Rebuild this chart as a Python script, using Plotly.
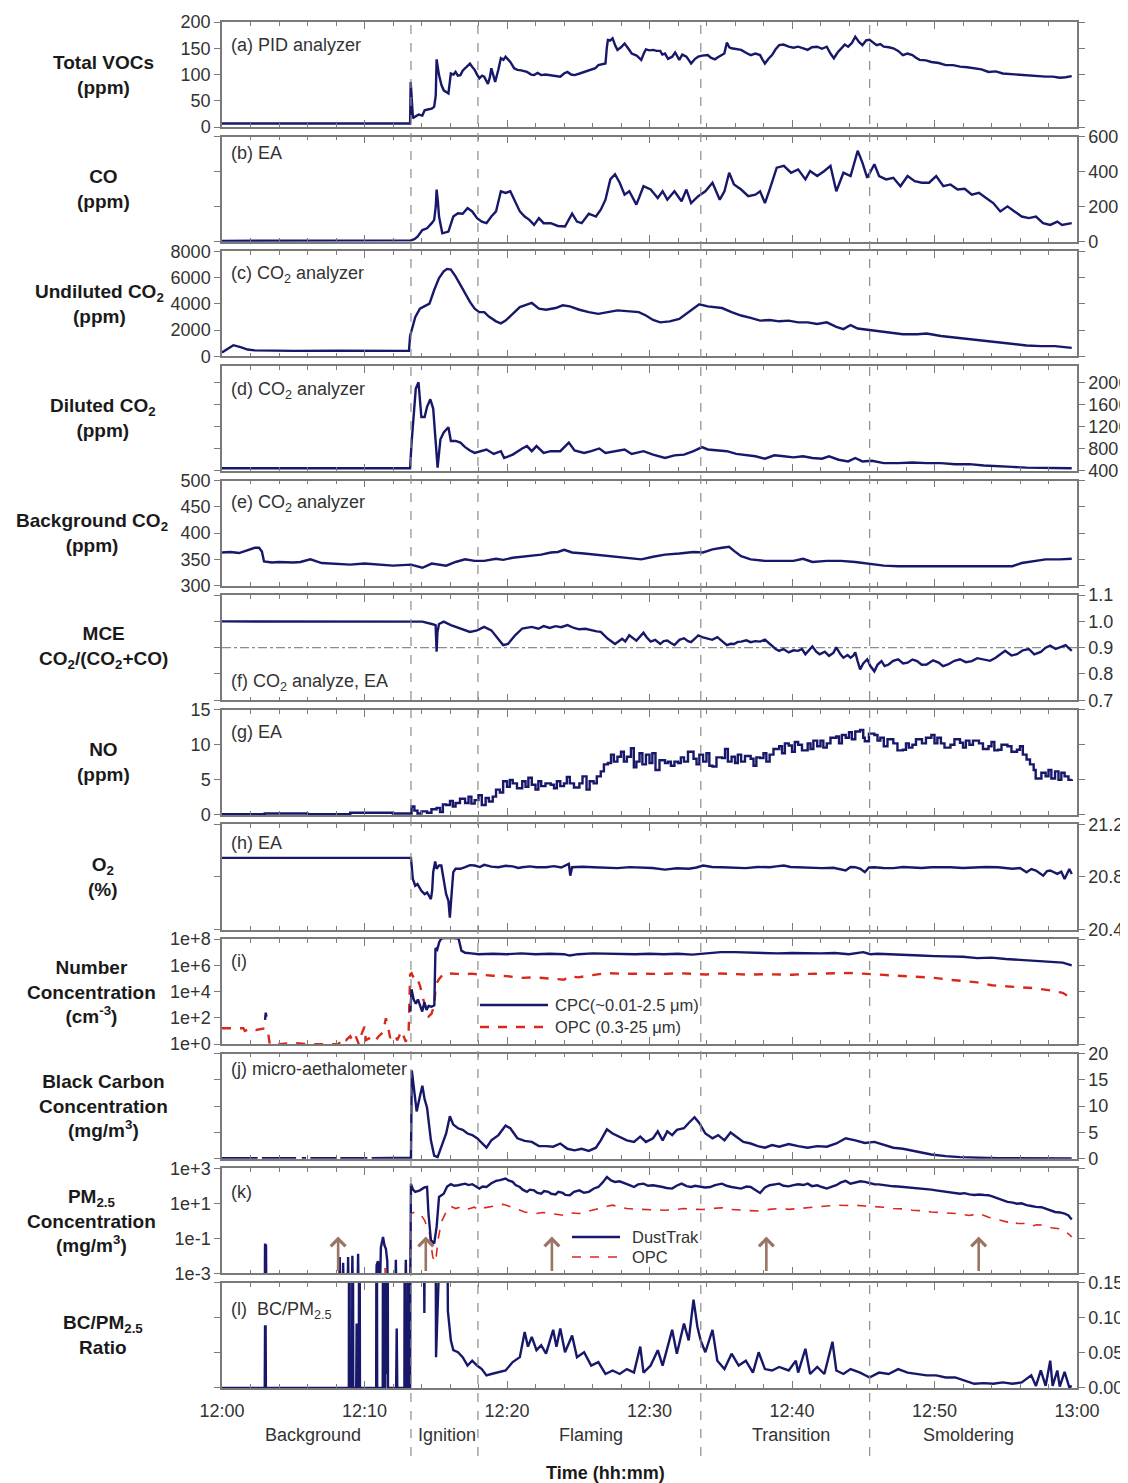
import plotly.graph_objects as go

# ---------------- data (time in minutes after 12:00) ----------------
X_TICKVALS = [0, 10, 20, 30, 40, 50, 60]
X_TICKTEXT = ["12:00", "12:10", "12:20", "12:30", "12:40", "12:50", "13:00"]
PHASE_BOUNDS = [13.26, 17.96, 33.6, 45.45]
PHASE_NAMES = ["Background", "Ignition", "Flaming", "Transition", "Smoldering"]
PHASE_CENTERS = [6.4, 15.8, 25.9, 39.9, 52.4]
ARROW_TIMES = [8.15, 14.3, 23.15, 38.2, 53.1]

VOC = [(0,7),(4,7),(8,7),(12,7),(13.2,7),(13.24,86),(13.3,60),(13.4,17),(13.56,20),(13.8,24),(14.06,22),(14.22,32),(14.5,34),(14.72,35),(14.89,39),(15.0,60),(15.06,129),(15.15,110),(15.23,99),(15.4,80),(15.56,70),(15.89,64),(16.06,102),(16.25,100),(16.39,105),(16.55,98),(16.73,99),(16.9,108),(17.06,112),(17.25,116),(17.40,121),(17.55,115),(17.73,109),(17.9,100),(18.06,93),(18.25,98),(18.40,96),(18.66,82),(18.8,95),(18.90,112),(19.05,100),(19.17,86),(19.4,110),(19.57,131),(19.75,128),(19.90,134),(20.1,128),(20.23,124),(20.5,112),(20.73,109),(21.0,108),(21.40,105),(21.7,100),(21.90,99),(22.15,103),(22.40,99),(22.7,100),(23.07,99),(23.4,98),(23.74,96),(24.0,102),(24.24,105),(24.5,100),(24.74,99),(25.1,102),(25.41,105),(25.7,108),(25.91,109),(26.2,112),(26.41,118),(26.7,119),(26.91,121),(27.0,150),(27.08,166),(27.25,165),(27.41,169),(27.6,155),(27.75,147),(28.0,152),(28.25,159),(28.5,150),(28.75,140),(29.1,136),(29.42,128),(29.6,140),(29.75,148),(30.0,146),(30.25,147),(30.5,145),(30.75,145),(30.9,138),(31.09,140),(31.3,130),(31.59,134),(31.8,142),(32.09,128),(32.3,138),(32.59,134),(32.75,128),(32.92,121),(33.2,130),(33.42,134),(33.7,136),(34.09,137),(34.3,132),(34.59,129),(34.8,133),(35.09,137),(35.25,140),(35.43,161),(35.6,152),(35.76,150),(36.1,148),(36.43,147),(36.8,141),(37.10,137),(37.43,140),(37.76,137),(37.9,130),(38.10,121),(38.35,130),(38.60,137),(38.85,148),(39.10,156),(39.4,157),(39.77,153),(40.1,151),(40.43,153),(40.8,150),(41.10,147),(41.4,152),(41.77,153),(42.1,149),(42.44,153),(42.7,140),(42.94,131),(43.2,142),(43.44,150),(43.7,157),(43.94,153),(44.2,160),(44.44,172),(44.7,162),(44.94,156),(45.2,165),(45.44,166),(45.7,160),(45.94,156),(46.2,158),(46.44,153),(46.8,152),(47.11,150),(47.45,145),(47.78,137),(48.1,140),(48.45,137),(48.7,132),(48.95,128),(49.4,127),(49.78,124),(50.3,122),(50.79,118),(51.3,118),(51.79,115),(52.3,114),(52.79,112),(53.3,110),(53.79,105),(54.3,106),(54.79,102),(55.3,101),(55.79,99),(56.3,99),(56.80,97),(57.3,97),(57.80,96),(58.3,96),(58.80,94),(59.2,95),(59.63,97)]

CO = [(0,5),(6,5),(13.26,8),(13.5,15),(13.72,29),(14.06,67),(14.39,77),(14.72,106),(14.89,125),(15.0,200),(15.06,298),(15.15,230),(15.23,144),(15.46,48),(15.89,58),(16.23,144),(16.56,163),(16.89,160),(17.23,192),(17.56,173),(17.90,135),(18.23,115),(18.56,106),(18.90,144),(19.23,173),(19.57,288),(19.90,279),(20.23,288),(20.57,231),(20.90,173),(21.24,144),(21.57,125),(21.90,96),(22.24,135),(22.57,106),(23.07,106),(23.57,90),(24.07,87),(24.57,160),(24.91,115),(25.24,106),(25.74,160),(26.24,144),(26.58,183),(26.91,240),(27.25,356),(27.58,385),(27.91,337),(28.25,269),(28.58,288),(29.08,212),(29.58,317),(30.08,298),(30.58,250),(30.92,288),(31.25,240),(31.75,288),(32.25,231),(32.59,298),(32.92,221),(33.42,260),(33.92,288),(34.42,337),(34.93,240),(35.26,288),(35.59,394),(35.93,327),(36.43,298),(36.93,260),(37.43,269),(37.76,288),(38.10,221),(38.43,298),(38.93,423),(39.43,433),(39.93,394),(40.43,413),(40.94,356),(41.27,404),(41.77,375),(42.27,404),(42.70,433),(43.11,288),(43.61,394),(44.11,375),(44.61,519),(44.94,452),(45.28,365),(45.78,442),(46.11,375),(46.61,356),(47.11,365),(47.61,317),(48.11,375),(48.61,346),(49.12,337),(49.62,337),(50.12,375),(50.62,317),(51.12,327),(51.62,298),(52.12,302),(52.62,269),(53.12,279),(53.62,250),(54.12,221),(54.62,173),(55.12,202),(55.62,173),(56.12,144),(56.62,135),(57.12,144),(57.62,106),(58.12,96),(58.62,115),(58.95,96),(59.63,106)]

CO2_UNDILUTED = [(0,300),(0.4,600),(0.8,850),(1.3,700),(1.8,520),(2.3,460),(3,440),(5,420),(8,430),(11,430),(13.12,420),(13.2,1554),(13.56,2978),(13.89,3626),(14.22,3807),(14.56,4014),(14.89,5050),(15.23,5957),(15.56,6475),(15.79,6656),(16.06,6605),(16.39,6086),(16.73,5439),(17.06,4791),(17.40,4144),(17.73,3626),(18.06,3367),(18.40,3367),(18.73,3030),(19.23,2668),(19.57,2512),(19.90,2720),(20.40,3237),(20.90,3755),(21.24,3885),(21.74,4066),(22.24,3626),(22.74,3548),(23.41,3678),(23.91,3885),(24.41,3807),(25.08,3548),(25.74,3367),(26.41,3237),(27.08,3367),(27.75,3497),(28.41,3445),(29.25,3367),(29.75,3108),(30.25,2771),(30.75,2590),(31.42,2668),(32.09,2849),(32.59,3237),(33.09,3626),(33.49,3963),(34.09,3807),(34.59,3755),(35.09,3678),(35.76,3367),(36.43,3108),(37.10,2927),(37.76,2720),(38.43,2771),(39.10,2668),(39.77,2720),(40.43,2590),(41.10,2590),(41.77,2461),(42.44,2590),(43.11,2253),(43.61,2072),(44.11,2383),(44.61,2124),(45.44,1994),(46.28,1891),(47.11,1761),(47.78,1684),(48.78,1684),(49.45,1735),(50.45,1554),(51.45,1425),(52.45,1295),(53.46,1166),(54.46,1036),(55.46,907),(56.46,829),(57.46,777),(58.46,777),(59.63,648)]

CO2_DILUTED = [(0,450),(13.2,450),(13.3,900),(13.46,1504),(13.6,1900),(13.79,2012),(13.9,1700),(13.99,1380),(14.22,1380),(14.39,1566),(14.62,1702),(14.82,1535),(14.99,946),(15.13,462),(15.33,977),(15.56,1101),(15.89,1194),(16.06,946),(16.39,946),(16.73,915),(17.06,834),(17.40,772),(17.73,729),(18.23,760),(18.56,791),(19.07,710),(19.57,760),(19.80,636),(20.40,698),(21.07,809),(21.40,853),(21.74,760),(22.07,853),(22.57,729),(23.07,760),(23.74,760),(24.34,915),(24.74,772),(25.41,729),(25.91,760),(26.48,809),(26.91,729),(27.58,760),(28.25,791),(28.75,710),(29.58,760),(30.25,698),(31.09,636),(31.75,685),(32.42,698),(33.09,760),(33.69,834),(34.09,791),(34.76,772),(35.43,760),(36.09,710),(36.76,685),(37.43,667),(38.10,623),(38.76,685),(39.43,667),(40.10,648),(40.77,667),(41.43,636),(42.10,623),(42.60,667),(43.27,605),(43.94,574),(44.44,636),(44.94,574),(45.61,586),(46.44,543),(47.45,543),(48.45,555),(49.45,543),(50.45,543),(51.45,524),(52.45,524),(53.46,499),(54.46,481),(55.46,474),(56.46,462),(57.46,462),(58.46,450),(59.63,450)]

CO2_BACKGROUND = [(0,363),(0.6,364),(1.2,362),(1.8,368),(2.3,372),(2.6,372),(2.8,365),(2.95,346),(3.5,344),(4,345),(5,344),(5.5,345),(6.2,350),(7,343),(8,342),(9,340),(10,342),(11,340),(12,338),(13.26,340),(14.06,334),(14.72,342),(15.73,338),(16.39,345),(17.06,350),(17.73,347),(18.40,347),(19.23,351),(19.73,349),(20.40,353),(21.07,355),(21.74,356),(22.40,359),(23.07,363),(23.57,364),(24.01,368),(24.57,363),(25.41,361),(26.41,358),(27.41,355),(28.41,352),(29.42,350),(30.25,355),(31.09,359),(32.09,361),(33.09,364),(33.76,363),(34.42,369),(35.09,372),(35.59,374),(35.93,366),(36.43,356),(37.10,350),(38.10,347),(39.10,347),(40.10,347),(40.77,351),(41.43,345),(42.44,347),(43.44,347),(44.44,345),(45.44,342),(46.44,338),(47.45,337),(48.45,337),(49.45,336),(50.45,336),(51.45,336),(52.45,336),(53.46,336),(54.46,336),(55.46,337),(56.12,343),(57.12,347),(57.80,350),(58.80,350),(59.63,351)]

MCE = [(0,1.0),(13.26,1.0),(14.06,0.999),(14.72,0.99),(14.99,0.986),(15.06,0.885),(15.12,0.96),(15.23,0.99),(15.56,0.999),(16.06,0.986),(16.73,0.973),(17.40,0.96),(17.90,0.966),(18.40,0.979),(18.90,0.966),(19.40,0.934),(19.73,0.91),(20.07,0.914),(20.57,0.947),(21.07,0.973),(21.74,0.979),(22.2,0.972),(22.57,0.982),(23.0,0.975),(23.41,0.982),(23.8,0.978),(24.24,0.986),(24.7,0.975),(25.08,0.97),(25.5,0.972),(25.91,0.966),(26.3,0.962),(26.58,0.96),(27.08,0.934),(27.58,0.914),(28.08,0.934),(28.3,0.924),(28.58,0.947),(29.08,0.927),(29.58,0.957),(29.8,0.94),(30.08,0.923),(30.4,0.93),(30.75,0.914),(31.0,0.925),(31.25,0.927),(31.5,0.918),(31.75,0.91),(32.1,0.93),(32.42,0.936),(32.7,0.925),(32.92,0.921),(33.2,0.935),(33.42,0.947),(33.7,0.94),(34.09,0.936),(34.4,0.93),(34.76,0.94),(35.1,0.925),(35.43,0.91),(35.7,0.915),(35.93,0.914),(36.2,0.922),(36.43,0.923),(36.8,0.928),(37.10,0.921),(37.43,0.925),(37.76,0.923),(38.10,0.931),(38.35,0.92),(38.60,0.908),(38.85,0.895),(39.10,0.888),(39.4,0.895),(39.77,0.882),(40.1,0.89),(40.43,0.888),(40.7,0.895),(40.94,0.875),(41.2,0.89),(41.43,0.905),(41.7,0.885),(41.94,0.875),(42.3,0.885),(42.60,0.869),(42.9,0.88),(43.11,0.901),(43.4,0.875),(43.61,0.862),(43.9,0.872),(44.11,0.862),(44.3,0.87),(44.44,0.882),(44.6,0.85),(44.78,0.817),(45.0,0.84),(45.28,0.856),(45.5,0.83),(45.78,0.81),(46.0,0.835),(46.28,0.849),(46.5,0.83),(46.78,0.836),(47.1,0.85),(47.45,0.856),(47.8,0.84),(48.11,0.843),(48.45,0.855),(48.78,0.849),(49.1,0.835),(49.45,0.836),(49.9,0.852),(50.29,0.843),(50.6,0.83),(50.95,0.836),(51.4,0.85),(51.79,0.856),(52.2,0.845),(52.62,0.849),(53.0,0.86),(53.46,0.856),(53.9,0.85),(54.29,0.862),(54.6,0.875),(54.96,0.888),(55.4,0.87),(55.79,0.875),(56.2,0.89),(56.62,0.895),(57.0,0.875),(57.46,0.884),(57.8,0.9),(58.12,0.908),(58.5,0.895),(58.79,0.901),(59.2,0.91),(59.63,0.888)]

NO = [(0,0.1),(3,0.2),(6,0.1),(9,0.3),(12,0.2),(13.2,0.2),(13.3,1.2),(13.5,0.6),(13.72,0.2),(14.0,0.5),(14.39,0.3),(14.7,0.8),(15.06,1.0),(15.3,0.4),(15.5,1.5),(15.73,1.4),(16.0,2.0),(16.2,1.2),(16.39,1.7),(16.7,2.3),(17.06,1.7),(17.3,2.6),(17.5,1.6),(17.73,2.1),(18.0,2.8),(18.23,1.4),(18.5,2.4),(18.73,1.9),(19.0,2.6),(19.23,3.6),(19.5,3.2),(19.73,4.8),(20.0,4.0),(20.2,5.0),(20.4,4.5),(20.7,3.8),(21.07,4.8),(21.3,4.0),(21.5,5.3),(21.74,4.3),(22.0,3.6),(22.2,4.8),(22.4,4.1),(22.7,4.5),(23.07,4.3),(23.3,3.8),(23.5,4.8),(23.74,4.1),(24.0,4.5),(24.2,5.4),(24.41,4.5),(24.7,3.9),(25.08,4.5),(25.3,5.5),(25.58,3.6),(25.8,4.8),(26.08,4.5),(26.3,5.5),(26.58,6.2),(26.8,7.2),(27.08,7.4),(27.3,8.6),(27.5,7.6),(27.75,8.3),(28.0,9.0),(28.2,7.6),(28.41,8.3),(28.7,9.5),(28.9,6.8),(29.08,7.6),(29.3,8.8),(29.5,7.2),(29.75,8.6),(30.0,7.4),(30.2,8.8),(30.42,6.4),(30.7,7.8),(31.09,7.4),(31.3,7.6),(31.5,7.0),(31.75,7.6),(32.0,7.4),(32.2,8.2),(32.42,7.6),(32.7,9.0),(33.09,8.0),(33.3,7.2),(33.5,8.6),(33.76,7.6),(34.0,8.8),(34.2,7.0),(34.42,6.9),(34.7,8.2),(35.09,8.1),(35.3,9.4),(35.5,7.6),(35.76,8.3),(36.0,7.4),(36.2,8.6),(36.43,7.6),(36.7,8.4),(37.1,8.0),(37.3,7.0),(37.5,8.2),(37.76,8.1),(38.0,8.8),(38.2,7.6),(38.43,8.6),(38.7,9.4),(39.1,9.8),(39.3,8.8),(39.5,10.2),(39.77,9.9),(40.0,9.0),(40.2,10.4),(40.43,10.0),(40.7,9.2),(41.1,10.2),(41.3,9.4),(41.5,10.6),(41.77,9.8),(42.0,10.6),(42.2,9.6),(42.44,10.2),(42.7,11.0),(43.11,11.2),(43.3,10.2),(43.5,11.4),(43.77,11.0),(44.0,11.8),(44.2,10.8),(44.44,11.9),(44.78,12.1),(45.0,11.0),(45.11,10.5),(45.4,11.6),(45.78,11.4),(46.0,10.6),(46.2,11.0),(46.44,9.8),(46.7,10.8),(47.11,10.2),(47.4,9.2),(47.78,9.3),(48.0,10.2),(48.2,9.6),(48.45,10.0),(48.7,10.8),(49.12,10.2),(49.4,11.0),(49.78,11.4),(50.0,10.2),(50.2,11.0),(50.45,10.2),(50.7,9.6),(51.12,10.0),(51.4,10.8),(51.79,10.3),(52.0,9.6),(52.2,10.6),(52.45,10.0),(52.7,10.6),(53.12,10.2),(53.4,9.4),(53.79,9.8),(54.0,10.4),(54.2,9.2),(54.46,9.3),(54.7,10.0),(55.12,9.8),(55.4,9.0),(55.79,9.3),(56.0,9.8),(56.2,8.6),(56.46,7.9),(56.7,7.2),(56.96,6.4),(57.1,5.2),(57.29,5.2),(57.5,6.0),(57.8,5.5),(58.0,6.4),(58.2,5.2),(58.46,6.2),(58.7,5.0),(58.9,6.0),(59.13,5.5),(59.4,5.0),(59.63,5.1)]

O2 = [(0,20.945),(13.26,20.945),(13.39,20.785),(13.56,20.733),(13.72,20.746),(13.99,20.695),(14.22,20.669),(14.39,20.682),(14.66,20.631),(14.75,20.7),(14.82,20.836),(14.96,20.918),(15.06,20.862),(15.23,20.887),(15.39,20.887),(15.56,20.785),(15.73,20.669),(15.89,20.618),(15.99,20.49),(16.12,20.682),(16.23,20.836),(16.39,20.862),(16.73,20.862),(17.06,20.874),(17.4,20.89),(17.73,20.887),(18.1,20.875),(18.40,20.892),(18.9,20.878),(19.40,20.874),(19.9,20.885),(20.40,20.88),(20.8,20.868),(21.07,20.874),(21.6,20.88),(22.07,20.874),(22.74,20.874),(23.3,20.882),(23.8,20.872),(24.34,20.9),(24.44,20.81),(24.57,20.874),(25.3,20.878),(26.08,20.874),(26.9,20.868),(27.75,20.867),(28.6,20.875),(29.42,20.874),(30.2,20.868),(31.09,20.856),(31.9,20.866),(32.76,20.862),(33.3,20.872),(33.76,20.887),(34.4,20.876),(35.09,20.874),(35.9,20.868),(36.76,20.867),(37.6,20.876),(38.43,20.874),(38.9,20.88),(39.43,20.887),(39.9,20.876),(40.43,20.874),(41.3,20.868),(42.10,20.867),(42.9,20.87),(43.77,20.849),(44.1,20.876),(44.44,20.874),(44.8,20.862),(45.11,20.836),(45.4,20.872),(45.78,20.874),(46.4,20.868),(47.11,20.867),(47.8,20.876),(48.45,20.874),(49.1,20.868),(49.78,20.874),(50.5,20.876),(51.12,20.874),(52.0,20.868),(52.79,20.874),(53.6,20.876),(54.46,20.874),(55.0,20.868),(55.46,20.862),(56.0,20.868),(56.46,20.836),(56.8,20.86),(57.12,20.849),(57.63,20.81),(57.9,20.845),(58.12,20.849),(58.62,20.823),(58.9,20.84),(59.13,20.785),(59.46,20.86),(59.63,20.823)]

CPC = [(3.02,70),(3.07,250),(3.12,120),(3.13,None),(13.22,300),(13.3,1.5e4),(13.45,2.5e3),(13.6,1.2e3),(13.75,2.5e3),(13.9,1.0e3),(14.05,300),(14.2,1.5e3),(14.35,400),(14.5,800),(14.7,700),(14.9,900),(14.98,2e7),(15.1,1.5e7),(15.25,6e7),(15.4,1.1e8),(15.6,1.2e8),(16.2,1.2e8),(16.6,1.1e8),(16.8,1.3e7),(17.06,9e6),(17.5,8e6),(18.0,7e6),(19,7.5e6),(20,7e6),(21,8e6),(22,7e6),(23,7.5e6),(24,7e6),(24.4,5.5e6),(25,7e6),(26,8e6),(27,7.5e6),(28,8e6),(29,7e6),(30,7.5e6),(31,7e6),(32,7.5e6),(33,6.5e6),(34,8e6),(35,1e7),(36,1e7),(37,9e6),(38,8.5e6),(39,8e6),(40,8.5e6),(41,8e6),(42,8e6),(43,8.5e6),(44,7e6),(45,1e7),(45.5,7e6),(46,7.5e6),(47,6.5e6),(48,6e6),(49,5.5e6),(50,5e6),(51,4.5e6),(52,4.5e6),(53,3.5e6),(54,3.8e6),(55,3e6),(56,2.5e6),(57,2.2e6),(58,1.8e6),(59,1.6e6),(59.63,1.0e6)]

OPC_NUMBER = [(0,16),(1.5,16),(1.6,10),(2.0,16),(2.4,12),(3.0,16),(3.2,14),(3.35,1),(4,1),(5,1.2),(6,1),(7,1),(8.2,1),(8.4,3),(8.7,2),(9.0,4),(9.2,1.5),(9.4,3.7),(9.6,1),(9.8,6),(10.0,21),(10.1,2),(10.4,3),(10.7,1.5),(11.0,4),(11.3,8),(11.5,93),(11.6,40),(11.8,3),(12.1,6),(12.3,2),(12.6,10),(12.9,1.5),(13.1,12),(13.2,2e5),(13.3,2.5e5),(13.45,1e5),(13.56,6e4),(13.72,8e4),(13.89,3e4),(14.1,3e3),(14.3,500),(14.5,130),(14.7,200),(14.9,1e3),(15.0,3e4),(15.2,8e4),(15.56,2.5e5),(16.06,2.5e5),(16.5,2.2e5),(17.0,2e5),(17.5,2.3e5),(18.0,2e5),(19,1.6e5),(20,1.5e5),(21,1.1e5),(22,1.2e5),(23,1e5),(24,8e4),(24.4,1.5e5),(25,1.2e5),(26,1.8e5),(27,2.5e5),(28,2.3e5),(29,2.2e5),(30,2.4e5),(31,2.2e5),(32,2.5e5),(33,2.3e5),(34,2e5),(35,2.4e5),(36,2e5),(37,1.9e5),(38,2.1e5),(39,2e5),(40,1.9e5),(41,2.2e5),(42,2.4e5),(43,2.3e5),(44,2.6e5),(45,2.3e5),(46,2e5),(47,1.8e5),(48,1.5e5),(49,1.4e5),(50,1.1e5),(51,8e4),(52,6e4),(53,5e4),(54,3e4),(55,2.5e4),(56,2e4),(57,1.8e4),(58,1.3e4),(59,8e3),(59.63,3e3)]

BLACK_CARBON = [(0,0.1),(2.5,0.1),(2.6,None),(2.8,0.1),(5.2,0.1),(5.3,None),(5.6,0.1),(5.9,0.1),(6.0,None),(6.2,0.1),(8.0,0.1),(8.1,None),(8.3,0.1),(10.2,0.1),(10.3,None),(10.5,0.1),(13.2,0.1),(13.26,0.2),(13.32,16.8),(13.46,13.2),(13.66,9.0),(13.89,11.9),(14.06,13.9),(14.22,11.3),(14.39,9.7),(14.66,3.5),(14.89,0.6),(15.13,0.3),(15.39,2.3),(15.73,4.8),(15.99,8.1),(16.23,6.5),(16.56,5.8),(16.89,5.5),(17.23,4.8),(17.56,4.5),(17.90,3.9),(18.23,2.9),(18.56,2.1),(18.90,3.5),(19.40,4.5),(19.90,6.3),(20.23,5.8),(20.73,3.9),(21.24,3.4),(21.74,3.2),(22.24,2.4),(22.74,2.4),(23.24,2.3),(23.74,2.9),(24.24,1.9),(24.74,1.6),(25.24,1.9),(25.74,1.5),(26.24,2.1),(26.58,3.5),(27.01,5.6),(27.41,4.8),(27.91,4.2),(28.41,3.5),(28.91,3.2),(29.35,4.2),(29.75,3.2),(30.25,3.9),(30.58,5.2),(30.92,3.5),(31.25,5.2),(31.59,4.5),(31.92,5.5),(32.42,5.8),(32.75,6.8),(33.16,7.9),(33.49,6.8),(33.92,4.8),(34.42,3.9),(34.82,4.5),(35.26,3.5),(35.69,5.0),(36.09,4.2),(36.59,3.2),(37.10,2.9),(37.60,2.4),(38.10,2.1),(38.60,2.6),(39.10,2.3),(39.77,2.8),(40.43,2.4),(41.10,2.1),(41.77,2.4),(42.44,2.3),(43.11,2.9),(43.77,3.9),(44.44,3.5),(45.11,3.0),(45.78,3.2),(46.44,2.6),(47.11,2.1),(47.78,1.9),(48.45,1.5),(49.12,1.1),(49.78,0.8),(50.79,0.5),(51.79,0.3),(53.12,0.2),(54.46,0.1),(59.63,0.05)]

ZERO = 1e-5  # below the plotted log range (reads as 0)
PM_DUSTTRAK = [(0,ZERO),(3.0,ZERO),(3.02,0.05),(3.06,0.03),(3.09,0.045),(3.11,ZERO),(8.2,ZERO),(8.26,0.0085),(8.3,ZERO),(8.45,ZERO),(8.5,0.004),(8.55,ZERO),(8.8,ZERO),(8.85,0.0085),(8.9,ZERO),(9.1,ZERO),(9.15,0.01),(9.2,ZERO),(9.5,ZERO),(9.55,0.013),(9.6,ZERO),(10.8,ZERO),(10.85,0.003),(10.95,0.005),(11.05,ZERO),(11.15,0.03),(11.3,0.12),(11.4,0.04),(11.5,0.025),(11.6,0.005),(11.65,ZERO),(12.15,ZERO),(12.2,0.006),(12.25,ZERO),(12.85,ZERO),(12.9,0.006),(12.95,ZERO),(13.2,ZERO),(13.26,130),(13.4,60),(13.56,45),(13.89,55),(14.2,80),(14.39,85),(14.49,2.6),(14.66,0.08),(14.89,0.05),(15.06,0.45),(15.23,23),(15.56,35),(15.8,90),(16.06,123),(16.3,100),(16.56,107),(16.8,120),(17.06,132),(17.3,110),(17.56,123),(17.8,95),(18.06,69),(18.3,90),(18.56,85),(18.9,140),(19.23,190),(19.5,210),(19.90,257),(20.1,200),(20.40,166),(20.6,110),(20.90,85),(21.1,60),(21.40,45),(21.6,60),(21.90,55),(22.1,40),(22.40,35),(22.6,50),(22.90,45),(23.1,35),(23.41,32),(23.6,45),(23.91,39),(24.1,30),(24.41,29),(24.7,45),(25.08,55),(25.4,40),(25.74,45),(26.1,70),(26.41,85),(26.7,150),(27.01,316),(27.3,200),(27.58,166),(27.9,180),(28.25,145),(28.6,110),(28.91,85),(29.2,120),(29.58,132),(29.9,100),(30.25,107),(30.6,90),(30.92,85),(31.2,75),(31.59,69),(31.9,100),(32.25,132),(32.6,95),(32.92,85),(33.2,100),(33.59,93),(33.9,80),(34.26,85),(34.6,110),(35.09,132),(35.4,100),(35.76,85),(36.1,75),(36.43,69),(36.8,90),(37.10,85),(37.4,60),(37.76,39),(38.1,80),(38.43,107),(38.8,120),(39.10,132),(39.4,100),(39.77,93),(40.1,110),(40.43,123),(40.8,110),(41.10,132),(41.4,95),(41.77,107),(42.1,85),(42.44,69),(42.8,90),(43.11,107),(43.4,150),(43.77,190),(44.1,130),(44.44,145),(44.8,180),(45.11,166),(45.5,140),(45.78,123),(46.1,120),(46.44,107),(46.8,100),(47.11,93),(47.45,90),(47.78,85),(48.1,88),(48.45,79),(48.8,72),(49.12,69),(49.5,65),(49.78,60),(50.1,55),(50.45,50),(50.8,48),(51.12,45),(51.5,40),(51.79,35),(52.1,38),(52.45,32),(52.8,30),(53.12,32),(53.5,30),(53.79,29),(54.1,24),(54.46,19),(54.8,15),(55.12,12),(55.5,11),(55.79,9.5),(56.1,10),(56.46,7.8),(56.8,7),(57.12,6.2),(57.5,6),(57.80,5),(58.1,4),(58.46,3.2),(58.8,3),(59.13,2.6),(59.4,2),(59.63,1.2)]

PM_OPC = [(0,ZERO),(3.0,ZERO),(3.04,0.0015),(3.08,ZERO),(11.4,ZERO),(11.45,0.002),(11.5,ZERO),(13.2,ZERO),(13.26,2.6),(13.56,3.2),(13.89,2.6),(14.22,1.07),(14.56,0.19),(14.79,0.0085),(14.99,0.0045),(15.16,0.08),(15.39,0.85),(15.73,3.2),(16.06,6.8),(16.4,5),(16.73,6.2),(17.0,4.5),(17.40,5.0),(17.7,6),(18.06,4.0),(18.4,5.5),(18.73,6.2),(19.2,7),(19.73,8.7),(20.1,7),(20.57,5.0),(20.9,4),(21.24,3.2),(21.6,2.8),(22.07,2.6),(22.5,3.0),(23.07,2.6),(23.5,2.4),(24.07,2.0),(24.5,2.8),(25.08,2.6),(25.5,3.2),(25.91,4.0),(26.3,5),(26.74,6.2),(27.1,7),(27.41,7.8),(27.9,6),(28.41,5.0),(29.1,4.6),(29.75,4.4),(30.4,4.0),(31.09,4.0),(31.8,4.4),(32.42,5.0),(33.1,4.5),(33.76,4.4),(34.4,5),(35.09,5.6),(35.7,4.5),(36.43,4.0),(37.1,3.8),(37.76,3.6),(38.4,4.5),(39.10,5.0),(39.8,4.5),(40.43,5.0),(41.1,5.5),(41.77,6.2),(42.4,6.5),(43.11,7.8),(43.8,7.5),(44.44,7.8),(45.1,7),(45.78,6.8),(46.4,6),(47.11,5.0),(47.8,4.8),(48.45,4.0),(49.1,3.8),(49.78,3.2),(50.4,3),(51.12,2.8),(51.8,2.5),(52.45,2.0),(53.1,2.6),(53.79,1.6),(54.5,1.2),(55.12,0.85),(55.5,1.1),(55.8,0.7),(56.46,0.7),(56.8,0.5),(57.2,0.6),(57.80,0.55),(58.2,0.4),(58.79,0.35),(59.2,0.25),(59.63,0.12)]

BC_PM_RATIO = [(0,0),(3.0,0),(3.02,0.088),(3.06,0.088),(3.08,0),(8.9,0),(8.93,0.5),(8.97,0),(9.13,0),(9.17,0.5),(9.21,0),(9.42,0),(9.45,0.092),(9.48,0),(9.6,0),(9.64,0.5),(9.68,0),(10.82,0),(10.85,0.5),(10.89,0),(11.28,0),(11.32,0.5),(11.36,0),(11.45,0),(11.5,0.5),(11.55,0.02),(11.6,0.5),(11.65,0),(12.22,0),(12.26,0.085),(12.3,0),(12.8,0),(12.84,0.5),(12.88,0),(13.03,0),(13.07,0.5),(13.1,0.0),(13.2,0),(13.26,0.5),(14.1,0.5),(14.2,0.107),(14.3,0.5),(14.95,0.5),(15.02,0.044),(15.1,0.5),(15.75,0.5),(15.85,0.11),(16.06,0.068),(16.23,0.054),(16.56,0.051),(16.89,0.044),(17.23,0.032),(17.56,0.039),(17.90,0.032),(18.23,0.027),(18.56,0.018),(18.90,0.02),(19.40,0.023),(19.90,0.025),(20.40,0.037),(20.90,0.044),(21.24,0.08),(21.47,0.059),(21.74,0.073),(22.07,0.054),(22.40,0.061),(22.74,0.049),(23.24,0.083),(23.47,0.059),(23.74,0.085),(24.07,0.051),(24.57,0.075),(24.91,0.044),(25.41,0.051),(25.91,0.032),(26.41,0.037),(26.91,0.02),(27.41,0.025),(27.91,0.02),(28.41,0.027),(28.91,0.022),(29.35,0.059),(29.58,0.022),(30.08,0.032),(30.58,0.054),(30.92,0.032),(31.25,0.059),(31.59,0.083),(31.92,0.049),(32.42,0.092),(32.75,0.068),(33.09,0.126),(33.36,0.0875),(33.59,0.068),(33.92,0.051),(34.42,0.083),(34.76,0.039),(35.26,0.027),(35.76,0.049),(36.26,0.032),(36.76,0.039),(37.26,0.022),(37.66,0.051),(38.10,0.027),(38.60,0.025),(39.10,0.03),(39.77,0.025),(40.27,0.039),(40.43,0.022),(40.94,0.056),(41.27,0.02),(41.77,0.03),(42.27,0.02),(42.84,0.066),(43.11,0.025),(43.61,0.02),(44.11,0.027),(44.78,0.022),(45.44,0.015),(46.11,0.022),(46.78,0.02),(47.45,0.027),(48.11,0.022),(48.78,0.02),(49.45,0.018),(50.12,0.018),(50.79,0.015),(51.45,0.015),(52.12,0.011),(52.79,0.006),(53.46,0.007),(54.12,0.006),(54.79,0.008),(55.46,0.006),(56.12,0.008),(56.79,0.018),(57.12,0.003),(57.46,0.025),(57.80,0.003),(58.12,0.039),(58.29,0.003),(58.62,0.025),(58.79,0.002),(59.13,0.023),(59.46,0.001),(59.63,0.003)]

LEGEND_NUMBER = ["CPC(~0.01-2.5 μm)", "OPC (0.3-25 μm)"]
LEGEND_PM = ["DustTrak", "OPC"]

# ---------------- styling ----------------
NAVY = "#17186a"
RED = "#d9281c"
FRAME = "#7a7a7a"
TXT = "#333333"
DASH_GRAY = "#8c8c8c"
ARROW_COLOR = "#9a7565"
FONT = "Liberation Sans, Arial, sans-serif"
TICK_SIZE = 18
TITLE_SIZE = 19
LABEL_SIZE = 18

OFF = 8                       # page body margin around the figure
W, HGT = 1128 - OFF, 1483 - OFF
ML, MR, MT, MB = 222 - OFF, 51, 22 - OFF, 95
PW = W - ML - MR
PH_TOTAL = HGT - MT - MB
GAP = 9.5
PANEL_H = (PH_TOTAL - 11 * GAP) / 12


def unzip(pairs):
    return [p[0] for p in pairs], [p[1] for p in pairs]


def px_x(px):
    """page x pixel -> paper x"""
    return (px - OFF - ML) / PW


def px_y(py):
    """page y pixel -> paper y"""
    return (MT + PH_TOTAL - (py - OFF)) / PH_TOTAL


panels = [
    dict(title="<b>Total VOCs<br>(ppm)</b>", tx=103, label="(a) PID analyzer", ly=0.78,
         side="left", rng=[0, 200], tv=[0, 50, 100, 150, 200], tt=None, log=False),
    dict(title="<b>CO<br>(ppm)</b>", tx=103, label="(b) EA", ly=0.84,
         side="right", rng=[0, 600], tv=[0, 200, 400, 600], tt=None, log=False),
    dict(title="<b>Undiluted CO<sub>2</sub><br>(ppm)</b>", tx=100, label="(c) CO<sub>2</sub> analyzer", ly=0.78,
         side="left", rng=[0, 8000], tv=[0, 2000, 4000, 6000, 8000], tt=None, log=False),
    dict(title="<b>Diluted CO<sub>2</sub><br>(ppm)</b>", tx=103, label="(d) CO<sub>2</sub> analyzer", ly=0.77,
         side="right", rng=[400, 2310], tv=[400, 800, 1200, 1600, 2000], tt=None, log=False),
    dict(title="<b>Background CO<sub>2</sub><br>(ppm)</b>", tx=92, label="(e) CO<sub>2</sub> analyzer", ly=0.78,
         side="left", rng=[300, 500], tv=[300, 350, 400, 450, 500], tt=None, log=False),
    dict(title="<b>MCE<br>CO<sub>2</sub>/(CO<sub>2</sub>+CO)</b>", tx=103, label="(f) CO<sub>2</sub> analyze, EA", ly=0.17,
         side="right", rng=[0.7, 1.1], tv=[0.7, 0.8, 0.9, 1.0, 1.1], tt=["0.7", "0.8", "0.9", "1.0", "1.1"], log=False),
    dict(title="<b>NO<br>(ppm)</b>", tx=103, label="(g) EA", ly=0.79,
         side="left", rng=[0, 15], tv=[0, 5, 10, 15], tt=None, log=False),
    dict(title="<b>O<sub>2</sub><br>(%)</b>", tx=103, label="(h) EA", ly=0.82,
         side="right", rng=[20.4, 21.2], tv=[20.4, 20.8, 21.2], tt=["20.4", "20.8", "21.2"], log=False),
    dict(title="<b>Number<br>Concentration<br>(cm<sup>-3</sup>)</b>", tx=91, label="(i)", ly=0.79,
         side="left", rng=[0, 8], tv=[1, 1e2, 1e4, 1e6, 1e8], tt=["1e+0", "1e+2", "1e+4", "1e+6", "1e+8"], log=True),
    dict(title="<b>Black Carbon<br>Concentration<br>(mg/m<sup>3</sup>)</b>", tx=103, label="(j) micro-aethalometer", ly=0.85,
         side="right", rng=[0, 20], tv=[0, 5, 10, 15, 20], tt=None, log=False),
    dict(title="<b>PM<sub>2.5</sub><br>Concentration<br>(mg/m<sup>3</sup>)</b>", tx=91, label="(k)", ly=0.77,
         side="left", rng=[-3, 3], tv=[1e-3, 1e-1, 1e1, 1e3], tt=["1e-3", "1e-1", "1e+1", "1e+3"], log=True),
    dict(title="<b>BC/PM<sub>2.5</sub><br>Ratio</b>", tx=103, label="(l)  BC/PM<sub>2.5</sub>", ly=0.74,
         side="right", rng=[0, 0.15], tv=[0, 0.05, 0.10, 0.15], tt=["0.00", "0.05", "0.10", "0.15"], log=False),
]

NAVY_LINE = dict(color=NAVY, width=2.4)
RED_THICK = dict(color=RED, width=2.4, dash="dash")
RED_THIN = dict(color=RED, width=1.6, dash="dash")

series = [
    (0, VOC, NAVY_LINE),
    (1, CO, NAVY_LINE),
    (2, CO2_UNDILUTED, NAVY_LINE),
    (3, CO2_DILUTED, NAVY_LINE),
    (4, CO2_BACKGROUND, NAVY_LINE),
    (5, MCE, NAVY_LINE),
    (6, NO, NAVY_LINE),
    (7, O2, NAVY_LINE),
    (8, OPC_NUMBER, RED_THICK),
    (8, CPC, NAVY_LINE),
    (9, BLACK_CARBON, NAVY_LINE),
    (10, PM_OPC, RED_THIN),
    (10, PM_DUSTTRAK, NAVY_LINE),
    (11, BC_PM_RATIO, NAVY_LINE),
]

fig = go.Figure()
for idx, pairs, line in series:
    t, v = unzip(pairs)
    n = idx + 1
    tr = dict(x=t, y=v, mode="lines", line=line, showlegend=False,
              xaxis="x" if n == 1 else f"x{n}", yaxis="y" if n == 1 else f"y{n}",
              hoverinfo="skip", connectgaps=False)
    if idx == 6:
        tr["line_shape"] = "hv"
    fig.add_trace(go.Scatter(**tr))

layout = dict(
    width=W, height=HGT,
    margin=dict(l=ML, r=MR, t=MT, b=MB, autoexpand=False),
    paper_bgcolor="white", plot_bgcolor="white",
    font=dict(family=FONT, size=16, color=TXT),
    showlegend=False,
)

annotations = []
shapes = []
for k, p in enumerate(panels):
    n = k + 1
    top = k * (PANEL_H + GAP)
    bot = top + PANEL_H
    dom = [max(0.0, 1 - bot / PH_TOTAL), 1 - top / PH_TOTAL]
    xname = "xaxis" if n == 1 else f"xaxis{n}"
    yname = "yaxis" if n == 1 else f"yaxis{n}"
    ya = "y" if n == 1 else f"y{n}"
    xa = "x" if n == 1 else f"x{n}"
    layout[xname] = dict(
        domain=[0, 1], anchor=ya, range=[0, 60], automargin=False,
        showline=True, linecolor=FRAME, linewidth=1.5, mirror="ticks",
        ticks="inside", ticklen=7, tickwidth=1.3, tickcolor=FRAME,
        tickvals=X_TICKVALS, ticktext=X_TICKTEXT,
        showticklabels=(n == 12), tickfont=dict(size=TICK_SIZE, color=TXT),
        ticklabelstandoff=6,
        minor=dict(dtick=2, ticks="inside", ticklen=4, tickwidth=1.2, tickcolor=FRAME, showgrid=False),
        showgrid=False, zeroline=False, fixedrange=True,
    )
    yax = dict(
        domain=dom, anchor=xa, side=p["side"], automargin=False,
        showline=True, linecolor=FRAME, linewidth=1.5, mirror="ticks",
        ticks="outside", ticklen=6, tickwidth=1.3, tickcolor=FRAME,
        tickvals=p["tv"], tickfont=dict(size=TICK_SIZE, color=TXT),
        showgrid=False, zeroline=False, fixedrange=True, range=p["rng"],
    )
    if p["tt"]:
        yax["ticktext"] = p["tt"]
    if p["log"]:
        yax["type"] = "log"
    layout[yname] = yax

    # left-hand row title
    ymid = 1 - (top + bot) / 2 / PH_TOTAL
    annotations.append(dict(text=p["title"], x=px_x(p["tx"]), y=ymid, xref="paper", yref="paper",
                            xanchor="center", yanchor="middle", showarrow=False,
                            font=dict(size=TITLE_SIZE, color="#1a1a1a"), align="center"))
    # panel label
    annotations.append(dict(text=p["label"], x=0.008, y=p["ly"],
                            xref=f"{xa} domain", yref=f"{ya} domain",
                            xanchor="left", yanchor="middle", showarrow=False,
                            font=dict(size=LABEL_SIZE, color=TXT)))

# phase boundaries (dashed verticals through all panels)
for b in PHASE_BOUNDS:
    shapes.append(dict(type="line", xref="x12", yref="paper", x0=b, x1=b,
                       y0=px_y(1456), y1=1.0,
                       line=dict(color=DASH_GRAY, width=1.2, dash="dash"), layer="above"))

# MCE reference line at 0.9
shapes.append(dict(type="line", xref="x6 domain", yref="y6", x0=0, x1=1, y0=0.9, y1=0.9,
                   line=dict(color=DASH_GRAY, width=1.3, dash="dashdot"), layer="below"))

# phase labels
for name, c in zip(PHASE_NAMES, PHASE_CENTERS):
    annotations.append(dict(text=name, x=c, y=px_y(1435), xref="x12", yref="paper",
                            xanchor="center", yanchor="middle", showarrow=False,
                            font=dict(size=18, color=TXT)))

annotations.append(dict(text="<b>Time (hh:mm)</b>", x=px_x(605), y=px_y(1473), xref="paper", yref="paper",
                        xanchor="center", yanchor="middle", showarrow=False,
                        font=dict(size=18, color="#1a1a1a")))

# arrows in panel (k)
for ta in ARROW_TIMES:
    annotations.append(dict(text="", x=ta, y=-0.9, xref="x11", yref="y11",
                            showarrow=True, ax=0, ay=36, arrowhead=4, arrowsize=1.1,
                            arrowwidth=2.6, arrowcolor=ARROW_COLOR))

# in-panel keys for panels (i) and (k)
legend_specs = [
    (LEGEND_NUMBER, [NAVY_LINE, RED_THICK], 480, 548, 553, [1005, 1027]),
    (LEGEND_PM, [NAVY_LINE, RED_THIN], 572, 620, 630, [1237, 1257]),
]
for names, styles, x0, x1, xt, ys in legend_specs:
    for nm, st, yy in zip(names, styles, ys):
        shapes.append(dict(type="line", xref="paper", yref="paper",
                           x0=px_x(x0), x1=px_x(x1), y0=px_y(yy), y1=px_y(yy),
                           line=dict(color=st["color"], width=st["width"], dash=st.get("dash", "solid"))))
        annotations.append(dict(text=nm, x=px_x(xt), y=px_y(yy), xref="paper", yref="paper",
                                xanchor="left", yanchor="middle", showarrow=False,
                                font=dict(size=16.5, color=TXT)))

layout["annotations"] = annotations
layout["shapes"] = shapes

fig.update_layout(**layout)
fig.write_html("out.html")
